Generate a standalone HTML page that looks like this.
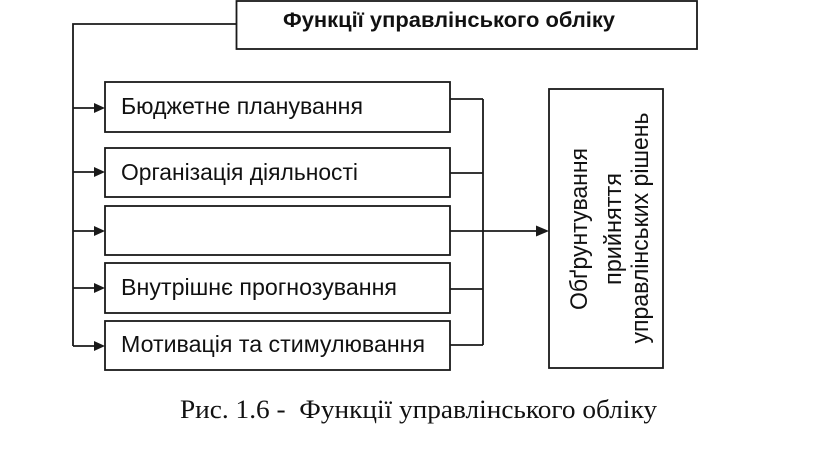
<!DOCTYPE html>
<html>
<head>
<meta charset="utf-8">
<style>
html,body{margin:0;padding:0;background:#fff;}
svg{display:block;}
</style>
</head>
<body>
<svg width="816" height="459" viewBox="0 0 816 459" xmlns="http://www.w3.org/2000/svg">
  <g fill="none" stroke="#1a1a1a" stroke-width="1.8">
    <rect x="236.5" y="1" width="460.5" height="48"/>
    <rect x="105" y="82" width="345" height="50"/>
    <rect x="105" y="148" width="345" height="49"/>
    <rect x="105" y="206" width="345" height="49"/>
    <rect x="105" y="263" width="345" height="50"/>
    <rect x="105" y="321" width="345" height="49"/>
    <rect x="549" y="89" width="114" height="279"/>
    <polyline points="236.5,24 73,24 73,346"/>
    <line x1="73" y1="108" x2="96" y2="108"/>
    <line x1="73" y1="172" x2="96" y2="172"/>
    <line x1="73" y1="231" x2="96" y2="231"/>
    <line x1="73" y1="288" x2="96" y2="288"/>
    <line x1="73" y1="346" x2="96" y2="346"/>
    <line x1="483" y1="99" x2="483" y2="345"/>
    <line x1="450" y1="99" x2="483" y2="99"/>
    <line x1="450" y1="173" x2="483" y2="173"/>
    <line x1="450" y1="289" x2="483" y2="289"/>
    <line x1="450" y1="345" x2="483" y2="345"/>
    <line x1="450" y1="231" x2="539" y2="231"/>
  </g>
  <g fill="#1a1a1a">
    <polygon points="94,103 105,108 94,113"/>
    <polygon points="94,167 105,172 94,177"/>
    <polygon points="94,226 105,231 94,236"/>
    <polygon points="94,283 105,288 94,293"/>
    <polygon points="94,341 105,346 94,351"/>
    <polygon points="536,225.5 549,231 536,236.5"/>
  </g>
  <g font-family="'Liberation Sans', 'DejaVu Sans', sans-serif" fill="#111">
    <text x="283" y="27" font-size="21.5" font-weight="bold" textLength="332" lengthAdjust="spacingAndGlyphs">Функції управлінського обліку</text>
    <text x="121" y="114" font-size="23" textLength="242" lengthAdjust="spacingAndGlyphs">Бюджетне планування</text>
    <text x="121" y="180" font-size="23" textLength="237" lengthAdjust="spacingAndGlyphs">Організація діяльності</text>
    <text x="121" y="295" font-size="23" textLength="276" lengthAdjust="spacingAndGlyphs">Внутрішнє прогнозування</text>
    <text x="121" y="352" font-size="23" textLength="304" lengthAdjust="spacingAndGlyphs">Мотивація та стимулювання</text>
    <text transform="translate(587,229) rotate(-90)" font-size="24" text-anchor="middle" textLength="162" lengthAdjust="spacingAndGlyphs">Обґрунтування</text>
    <text transform="translate(621,229) rotate(-90)" font-size="24" text-anchor="middle" textLength="112" lengthAdjust="spacingAndGlyphs">прийняття</text>
    <text transform="translate(648,228) rotate(-90)" font-size="24" text-anchor="middle" textLength="231" lengthAdjust="spacingAndGlyphs">управлінських рішень</text>
  </g>
  <text x="180" y="418" font-family="'Liberation Serif', 'DejaVu Serif', serif" font-size="26" fill="#111" textLength="477" lengthAdjust="spacingAndGlyphs" xml:space="preserve">Рис. 1.6 -  Функції управлінського обліку</text>
</svg>
</body>
</html>
